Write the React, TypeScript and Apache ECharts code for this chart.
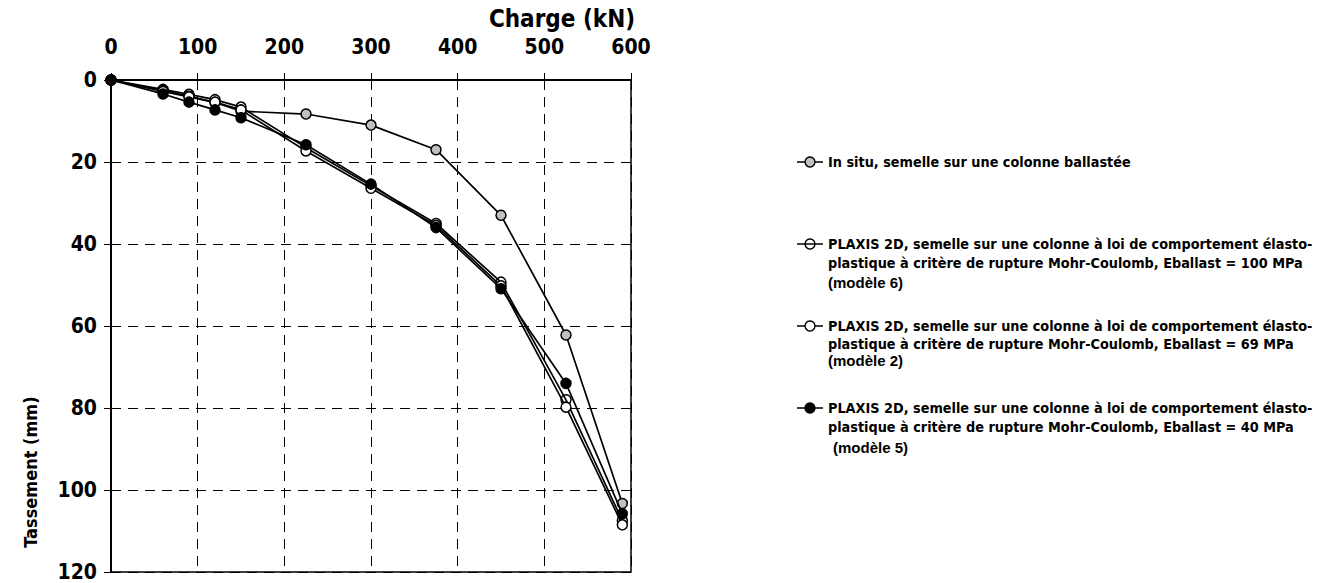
import React, { useEffect, useRef } from "react";
import * as echarts from "echarts";

// Charge (kN)
const loads = [0, 60, 90, 120, 150, 225, 300, 375, 450, 525, 590];
// Tassement (mm)
const inSitu = [0, 2.5, 4.0, 5.5, 7.6, 8.3, 11.0, 17.0, 33.0, 62.2, 103.3];
const modele6 = [0, 2.3, 3.5, 4.8, 6.6, 16.5, 25.8, 35.0, 49.3, 78.0, 107.5];
const modele2 = [0, 2.8, 4.1, 5.4, 7.3, 17.3, 26.4, 35.5, 50.2, 79.8, 108.5];
const modele5 = [0, 3.4, 5.4, 7.3, 9.2, 15.8, 25.4, 36.0, 50.9, 74.0, 105.8];

const xTicks = [0, 100, 200, 300, 400, 500, 600];
const yTicks = [0, 20, 40, 60, 80, 100, 120];

const seriesNames = [
  "In situ, semelle sur une colonne ballastée",
  "PLAXIS 2D, modèle 6",
  "PLAXIS 2D, modèle 2",
  "PLAXIS 2D, modèle 5",
];
const legendLines = [
  ["In situ, semelle sur une colonne ballastée"],
  [
    "PLAXIS 2D, semelle sur une colonne à loi de comportement élasto-",
    "plastique à critère de rupture Mohr-Coulomb, Eballast = 100 MPa",
  ],
  [
    "PLAXIS 2D, semelle sur une colonne à loi de comportement élasto-",
    "plastique à critère de rupture Mohr-Coulomb, Eballast = 69 MPa",
  ],
  [
    "PLAXIS 2D, semelle sur une colonne à loi de comportement élasto-",
    "plastique à critère de rupture Mohr-Coulomb, Eballast = 40 MPa",
  ],
];
const legendNotes = ["", "(modèle 6)", "(modèle 2)", "(modèle 5)"];
const fills = ["#c0c0c0", "none", "#ffffff", "#000000"];

const NARROW = "'Liberation Sans Narrow', 'Arial Narrow', 'DejaVu Sans Condensed', sans-serif";
const ARIAL = "'Liberation Sans', Arial, sans-serif";

export default function App() {
  const ref = useRef<HTMLDivElement>(null);
  useEffect(() => {
    if (!ref.current) return;
    const chart = echarts.init(ref.current, undefined, { renderer: "svg" });
    const datasets = [inSitu, modele6, modele2, modele5];
    const series = datasets.map((vals, i) => ({
      name: seriesNames[i],
      type: "line",
      data: loads.map((x, k) => [x, vals[k]]),
      symbol: "circle",
      symbolSize: 10,
      lineStyle: { color: "#000", width: 1.7 },
      itemStyle: {
        color: fills[i] === "none" ? "rgba(255,255,255,0)" : fills[i],
        borderColor: "#000",
        borderWidth: 1.5,
      },
      z: 2 + i,
    }));

    const legendY = [162, 244, 326, 408];
    const lineStep = [0, 19, 17.5, 18.5];
    const noteY = [0, 282, 360, 447];
    const legendGraphics: any[] = [];
    legendY.forEach((y, i) => {
      legendGraphics.push({
        type: "line",
        shape: { x1: 797, y1: y, x2: 823, y2: y },
        style: { stroke: "#000", lineWidth: 1.5 },
      });
      legendGraphics.push({
        type: "circle",
        shape: { cx: 810, cy: y, r: 5 },
        style: {
          fill: fills[i] === "none" ? "rgba(255,255,255,0)" : fills[i],
          stroke: "#000",
          lineWidth: 1.4,
        },
      });
      legendLines[i].forEach((t, k) => {
        legendGraphics.push({
          type: "text",
          x: 828,
          y: y + k * lineStep[i],
          style: {
            text: t,
            fill: "#000",
            font: `bold 14.3px ${NARROW}`,
            verticalAlign: "middle",
          },
        });
      });
      if (legendNotes[i]) {
        legendGraphics.push({
          type: "text",
          x: i === 3 ? 833 : 828,
          y: noteY[i],
          style: {
            text: legendNotes[i],
            fill: "#000",
            font: `bold 15px ${ARIAL}`,
            verticalAlign: "middle",
          },
        });
      }
    });

    chart.setOption({
      animation: false,
      backgroundColor: "#fff",
      grid: {
        left: 111,
        top: 80,
        width: 520,
        height: 492,
        show: true,
        borderColor: "#000",
        borderWidth: 1.5,
      },
      xAxis: {
        type: "value",
        position: "top",
        min: xTicks[0],
        max: xTicks[xTicks.length - 1],
        interval: 100,
        axisLine: { show: true, lineStyle: { color: "#000", width: 2 } },
        axisTick: { show: true, inside: false, length: 7, lineStyle: { color: "#000", width: 1 } },
        axisLabel: {
          color: "#000",
          fontWeight: "bold",
          fontSize: 21,
          fontFamily: NARROW,
          margin: 23,
        },
        splitLine: {
          show: true,
          lineStyle: { color: "#000", type: [10, 7], width: 1 },
        },
      },
      yAxis: {
        type: "value",
        inverse: true,
        min: yTicks[0],
        max: yTicks[yTicks.length - 1],
        interval: 20,
        axisLine: { show: true, lineStyle: { color: "#000", width: 2 } },
        axisTick: { show: true, inside: false, length: 7, lineStyle: { color: "#000", width: 1 } },
        axisLabel: {
          color: "#000",
          fontWeight: "bold",
          fontSize: 21,
          fontFamily: NARROW,
          margin: 14,
        },
        splitLine: {
          show: true,
          lineStyle: { color: "#000", type: [10, 7], width: 1 },
        },
      },
      graphic: [
        {
          type: "text",
          x: 562,
          y: 19,
          style: {
            text: "Charge (kN)",
            fill: "#000",
            font: `bold 24px ${NARROW}`,
            align: "center",
            verticalAlign: "middle",
          },
        },
        {
          type: "text",
          x: 30,
          y: 472,
          rotation: Math.PI / 2,
          style: {
            text: "Tassement (mm)",
            fill: "#000",
            font: `bold 18px ${NARROW}`,
            align: "center",
            verticalAlign: "middle",
          },
        },
        ...legendGraphics,
      ],
      series,
    });
    return () => chart.dispose();
  }, []);
  return (
    <div
      ref={ref}
      style={{ position: "fixed", left: 0, top: 0, width: 1335, height: 583, background: "#fff" }}
    />
  );
}
